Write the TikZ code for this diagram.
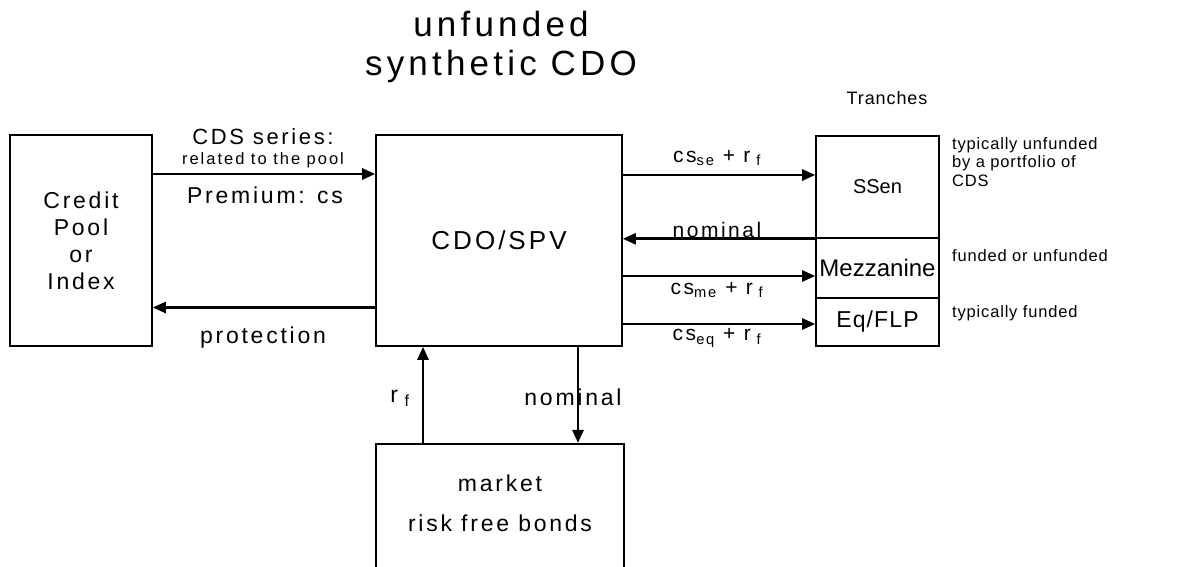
\documentclass[tikz,border=0pt]{standalone}
\usepackage{fontspec}
\setmainfont{Liberation Sans}
\newfontfamily\spaced[LetterSpace=12]{Liberation Sans}
\newfontfamily\slight[LetterSpace=5]{Liberation Sans}
\usetikzlibrary{arrows.meta}
\tikzset{
  box/.style   = {draw, line width=1.6pt, inner sep=0pt},
  flow/.style  = {line width=2.6pt, -{Triangle[length=13pt, width=11pt]}},
  lbl/.style   = {font=\spaced\fontsize{21}{25}\selectfont, inner sep=0pt},
  big/.style   = {font=\spaced\fontsize{23}{27}\selectfont, inner sep=0pt},
  minor/.style = {font=\spaced\fontsize{16.5}{19}\selectfont, inner sep=0pt},
  note/.style  = {font=\slight\fontsize{16.5}{18.5}\selectfont, inner sep=0pt, align=left, anchor=west},
}

\begin{document}
\begin{tikzpicture}[x=1pt, y=1pt]
  \path[use as bounding box, clip] (0,0) rectangle (1204,567);

  % ---------- title -------------------------------------------------------------
  \node[align=center, inner sep=0pt, font=\spaced\fontsize{35}{39}\selectfont] (title) at (501,520)
    {unfunded\\synthetic CDO};

  % ---------- boxes --------------------------------------------------------------
  \node[box, minimum width=142, minimum height=211, align=center,
        font=\spaced\fontsize{23}{27}\selectfont] (pool) at (81,326.5) {Credit\\Pool\\or\\Index};
  \node[box, minimum width=246, minimum height=211,
        font=\spaced\fontsize{26}{30}\selectfont] (spv) at (499,326.5) {CDO\kern3pt/\kern3pt SPV};

  % tranche stack: three boxes sharing their borders
  \node[box, minimum width=123, minimum height=102, font=\fontsize{20}{24}\selectfont] (ssen)  at (877.5,380) {SSen};
  \node[box, minimum width=123, minimum height=60,  font=\fontsize{24}{28}\selectfont] (mezz)  at (877.5,299) {Mezzanine};
  \node[box, minimum width=123, minimum height=48,  font=\slight\fontsize{23}{27}\selectfont] (eqflp) at (877.5,245) {Eq/FLP};
  \node[font=\slight\fontsize{18}{22}\selectfont, inner sep=0pt] (tranches) at (887,469) {Tranches};

  % market box runs off the bottom edge
  \node[box, minimum width=248, minimum height=160, anchor=north] (bonds) at (500,124) {};
  \node[big, align=center, font=\spaced\fontsize{23}{40}\selectfont] (bondtxt) at (500,64) {market\\risk free bonds};

  % ---------- flows between pool and SPV ----------------------------------------
  \coordinate (cds)  at ([yshift=66.5]pool.east);
  \coordinate (prot) at ([yshift=-67]spv.west);
  \draw[flow] (cds)  -- (cds -| spv.west);
  \draw[flow] (prot) -- (prot -| pool.east);

  \node[big, font=\spaced\fontsize{22}{27}\selectfont] (cdslbl) at (263,430) {CDS series:};
  \node[minor] (poollbl) at (263,407) {related to the pool};
  \node[big] (premlbl) at (265,372) {Premium: cs};
  \node[big] (protlbl) at (263,229) {protection};

  % ---------- flows between SPV and tranches ------------------------------------
  \coordinate (se)  at ([yshift=65.5]spv.east);
  \coordinate (me)  at ([yshift=-35.5]spv.east);
  \coordinate (eqa) at ([yshift=-83.5]spv.east);
  \draw[flow] (se)  -- (se -| ssen.west);
  \draw[flow] (ssen.south west) -- (ssen.south west -| spv.east);
  \draw[flow] (me)  -- (me -| mezz.west);
  \draw[flow] (eqa) -- (eqa -| eqflp.west);

  \node[lbl] (selbl)  at (717,409) {cs\textsubscript{se} + r\textsubscript{ f}};
  \node[lbl] (nomlbl) at (717,337) {nominal};
  \node[lbl] (melbl)  at (717,277) {cs\textsubscript{me} + r\textsubscript{ f}};
  \node[lbl] (eqlbl)  at (717,229) {cs\textsubscript{eq} + r\textsubscript{ f}};

  % notes on the funding of each tranche
  \node[note] (ssennote) at (952,405) {typically unfunded\\by a portfolio of\\CDS};
  \node[note] (mezznote) at (952,311) {funded or unfunded};
  \node[note] (eqnote)   at (952,254) {typically funded};

  % ---------- flows between SPV and the bond market -----------------------------
  \coordinate (rf)    at ([xshift=-77]bonds.north);
  \coordinate (nomdn) at ([xshift=79]spv.south);
  \draw[flow] (rf)    -- (rf |- spv.south);
  \draw[flow] (nomdn) -- (nomdn |- bonds.north);

  \node[big] (rflbl)  at (400,169) {r\textsubscript{ f}};
  \node[big] (nomup)  at (573,170) {nominal};
\end{tikzpicture}
\end{document}
